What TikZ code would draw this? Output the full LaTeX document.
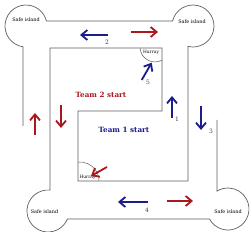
\documentclass[tikz,border=0pt]{standalone}
\usepackage{fontspec}
\setmainfont{DejaVu Serif}
\usetikzlibrary{arrows.meta}
\definecolor{tblue}{RGB}{28,28,140}
\definecolor{tred}{RGB}{170,24,30}
\definecolor{wallc}{RGB}{95,95,95}
\definecolor{numc}{RGB}{60,60,110}
\begin{document}
\begin{tikzpicture}[x=1pt,y=-1pt,
  wall/.style={draw=wallc,line width=0.7pt},
  bluearrow/.style={draw=tblue,line width=1.8pt,-{Straight Barb[length=6pt,width=10pt]}},
  redarrow/.style={draw=tred,line width=1.8pt,-{Straight Barb[length=6pt,width=10pt]}},
  island/.style={font=\fontsize{4.9}{5}\selectfont,inner sep=0pt},
  hurray/.style={font=\fontsize{4.4}{5}\selectfont,inner sep=0pt},
  num/.style={font=\fontsize{6}{7}\selectfont,text=numc,inner sep=0pt},
  team/.style={font=\fontsize{7.2}{8}\selectfont\bfseries,inner sep=0pt}]
\useasboundingbox[fill=white] (0,0) rectangle (250,232);
% walls: one continuous path
\draw[wall] (23,126) -- (23,46.8)
  arc[start angle=98.2,end angle=346.2,radius=21]
  -- (172.6,21)
  arc[start angle=193.8,end angle=463.8,radius=21]
  -- (188,181) -- (78,181) -- (78,111) -- (162,111) -- (162,48) -- (50,48) -- (50,190.1)
  arc[start angle=-84.5,end angle=-337.6,radius=21]
  -- (209.5,219)
  arc[start angle=151.6,end angle=-121.6,radius=21]
  -- (217,120);
% hurray arcs
\draw[wall,line width=0.5pt] (140,48) arc[start angle=176,end angle=62,radius=15];
\draw[wall,line width=0.5pt] (78,162.1) arc[start angle=264,end angle=360,radius=19];
% labels
\node[island] (sl1) at (26,20) {Safe island};
\node[island] (sl2) at (192,21.5) {Safe island};
\node[island] (sl3) at (44.5,212) {Safe island};
\node[island] (sl4) at (228,212) {Safe island};
\node[hurray] (h1) at (151,52.5) {Hurray};
\node[hurray] (h2) at (87.5,177) {Hurray};
\node[team,text=tred] (t2) at (101,95) {Team 2 start};
\node[team,text=tblue] (t1) at (124,130) {Team 1 start};
% arrows
\draw[bluearrow] (108,35) -- (80,35);
\node[num] (n2) at (107,42) {2};
\draw[redarrow] (131,32) -- (158,32);
\draw[bluearrow] (141.7,80) -- (151.7,62.7);
\node[num] (n5) at (148,82) {5};
\draw[bluearrow] (172,118) -- (172,96);
\node[num] (n1) at (177,119) {1};
\draw[bluearrow] (201,106) -- (201,130);
\node[num] (n3) at (211,131) {3};
\draw[bluearrow] (148,202) -- (118,202);
\node[num] (n4) at (147,210) {4};
\draw[redarrow] (167,201) -- (193,201);
\draw[redarrow] (107,167) -- (91,176);
\draw[redarrow] (35,135) -- (35,113);
\draw[redarrow] (61,105) -- (61,128);
\end{tikzpicture}
\end{document}
